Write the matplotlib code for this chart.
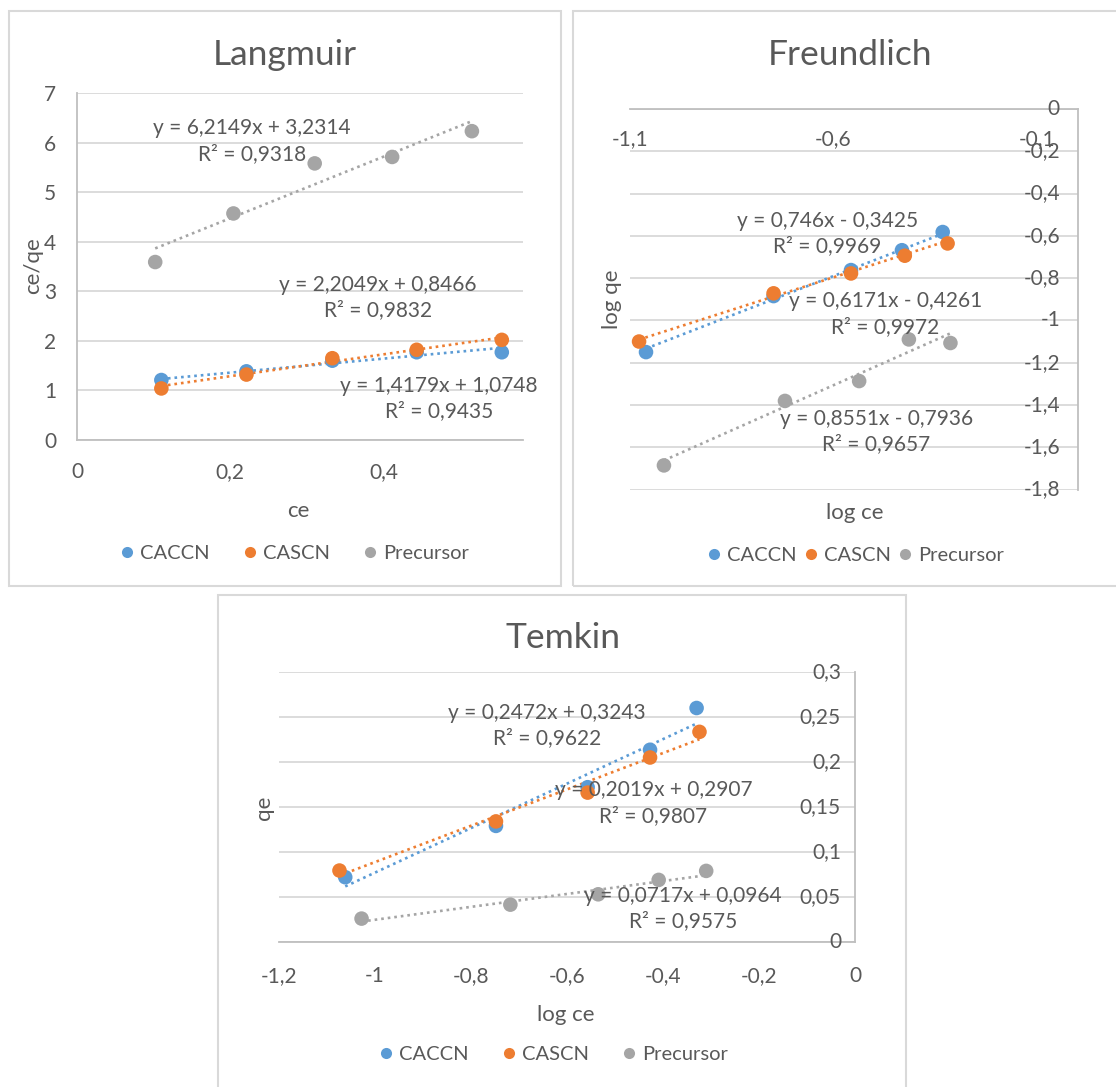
import matplotlib
matplotlib.use("Agg")
import matplotlib.pyplot as plt
import matplotlib.transforms as mtrans
from matplotlib.patches import Rectangle
from matplotlib.lines import Line2D

plt.rcParams['font.family'] = ['Lato', 'DejaVu Sans']

W, H = 1116, 1087
TXT = '#595959'
GRID = '#D9D9D9'
AXIS = '#BFBFBF'

series_names = ["CACCN", "CASCN", "Precursor"]
series_colors = ["#5B9BD5", "#ED7D31", "#A5A5A5"]

# Langmuir: ce vs ce/qe
lang_ce_caccn = [0.110, 0.221, 0.333, 0.443, 0.554]
lang_cq_caccn = [1.21, 1.385, 1.60, 1.77, 1.77]
lang_ce_cascn = [0.110, 0.221, 0.333, 0.443, 0.554]
lang_cq_cascn = [1.04, 1.32, 1.65, 1.82, 2.02]
lang_ce_prec = [0.102, 0.204, 0.310, 0.411, 0.515]
lang_cq_prec = [3.59, 4.57, 5.58, 5.71, 6.23]
lang_fits = [(1.4179, 1.0748, 0.9435), (2.2049, 0.8466, 0.9832), (6.2149, 3.2314, 0.9318)]

# Freundlich: log ce vs log qe
freu_x_caccn = [-1.060, -0.747, -0.557, -0.432, -0.332]
freu_y_caccn = [-1.150, -0.885, -0.762, -0.668, -0.582]
freu_x_cascn = [-1.077, -0.747, -0.557, -0.425, -0.320]
freu_y_cascn = [-1.100, -0.872, -0.778, -0.694, -0.636]
freu_x_prec = [-1.016, -0.719, -0.537, -0.415, -0.313]
freu_y_prec = [-1.686, -1.381, -1.287, -1.090, -1.107]
freu_fits = [(0.746, -0.3425, 0.9969), (0.6171, -0.4261, 0.9972), (0.8551, -0.7936, 0.9657)]

# Temkin: log ce vs qe
temk_x_caccn = [-1.062, -0.748, -0.557, -0.427, -0.330]
temk_y_caccn = [0.072, 0.129, 0.172, 0.2136, 0.260]
temk_x_cascn = [-1.074, -0.748, -0.557, -0.427, -0.324]
temk_y_cascn = [0.0794, 0.134, 0.166, 0.205, 0.2335]
temk_x_prec = [-1.028, -0.718, -0.535, -0.409, -0.310]
temk_y_prec = [0.026, 0.0415, 0.053, 0.069, 0.079]
temk_fits = [(0.2472, 0.3243, 0.9622), (0.2019, 0.2907, 0.9807), (0.0717, 0.0964, 0.9575)]

lang_xticks = [0, 0.2, 0.4]
lang_yticks = [0, 1, 2, 3, 4, 5, 6, 7]
freu_xticks = [-1.1, -0.6, -0.1]
freu_yticks = [0, -0.2, -0.4, -0.6, -0.8, -1.0, -1.2, -1.4, -1.6, -1.8]
temk_xticks = [-1.2, -1.0, -0.8, -0.6, -0.4, -0.2, 0]
temk_yticks = [0, 0.05, 0.1, 0.15, 0.2, 0.25, 0.3]


def num(v):
    if abs(v) < 1e-12:
        return "0"
    s = repr(round(v, 4))
    if s.endswith(".0"):
        s = s[:-2]
    return s.replace(".", ",")


def eq_label(a, b, r2):
    sign = "+" if b >= 0 else "-"
    return f"y = {num(a)}x {sign} {num(abs(b))}\nR\u00b2 = {num(r2)}"


def px_rect(x0, y0, x1, y1):
    return [x0 / W, 1 - y1 / H, (x1 - x0) / W, (y1 - y0) / H]


def ftext(px, py, s, **kw):
    kw.setdefault('ha', 'center')
    kw.setdefault('va', 'center')
    kw.setdefault('color', TXT)
    return fig.text(px / W, 1 - py / H, s, **kw)


fig = plt.figure(figsize=(W / 100, H / 100), dpi=100)
fig.patch.set_facecolor('white')

# chart frames
for (x0, y0, x1, y1) in [(8.5, 10.5, 560.5, 585.5), (572.5, 10.5, 1120, 585.5), (217.5, 594.5, 906, 1095)]:
    fig.add_artist(Rectangle((x0 / W, 1 - y1 / H), (x1 - x0) / W, (y1 - y0) / H,
                             transform=fig.transFigure, fill=False, ec=GRID, lw=1.5))

FS = 15
TITLE_FS = 25.5


def draw_series(ax, xs_all, ys_all, fits, label_pos):
    for xs, ys, (a, b, r2), c, name, (lx, ly) in zip(xs_all, ys_all, fits, series_colors, series_names, label_pos):
        ax.scatter(xs, ys, s=110, color=c, edgecolors='none', zorder=3, label=name)
        x0, x1 = min(xs), max(xs)
        ax.plot([x0, x1], [a * x0 + b, a * x1 + b], color=c, lw=1.9,
                linestyle=(0, (1, 1.5)), dash_capstyle='butt', zorder=2)
        ax.text(lx, ly, eq_label(a, b, r2), ha='center', va='center', fontsize=FS,
                color=TXT, linespacing=1.35, zorder=4, multialignment='center')


def style_axes(ax):
    ax.set_facecolor('none')
    for sp in ax.spines.values():
        sp.set_visible(False)
        sp.set_color(AXIS)
        sp.set_linewidth(1.3)
    ax.grid(axis='y', color=GRID, lw=1.3)
    ax.grid(axis='x', visible=False)
    ax.set_axisbelow(True)
    ax.tick_params(length=0, colors=TXT, labelsize=FS)


def legend_at(px, py, colsp):
    handles = [Line2D([], [], ls='none', marker='o', markersize=8, color=c, markeredgewidth=0)
               for c in series_colors]
    fig.legend(handles, series_names, loc='center', bbox_to_anchor=(px / W, 1 - py / H),
               ncol=3, frameon=False, fontsize=14.5, labelcolor=TXT, handlelength=0.8,
               handletextpad=0.25, columnspacing=colsp, borderpad=0)


# ---------------- Langmuir ----------------
ax1 = fig.add_axes(px_rect(77, 93, 522.5, 440))
style_axes(ax1)
ax1.spines['left'].set_visible(True)
ax1.spines['bottom'].set_visible(True)
ax1.set_xlim(0, 0.581)
ax1.set_ylim(0, 7)
ax1.set_xticks(lang_xticks, [num(v) for v in lang_xticks])
ax1.set_yticks(lang_yticks, [num(v) for v in lang_yticks])
ax1.tick_params(axis='x', pad=16)
ax1.tick_params(axis='y', pad=15)
draw_series(ax1, [lang_ce_caccn, lang_ce_cascn, lang_ce_prec],
            [lang_cq_caccn, lang_cq_cascn, lang_cq_prec], lang_fits,
            [(0.472, 0.84), (0.392, 2.87), (0.228, 6.03)])
ftext(285, 55, "Langmuir", fontsize=TITLE_FS)
ftext(298, 511, "ce", fontsize=FS + 1)
ftext(33, 266, "ce/qe", fontsize=FS + 1, rotation=90)
legend_at(294, 553, 1.6)

# ---------------- Freundlich ----------------
ax2 = fig.add_axes(px_rect(629.7, 109, 1078, 489.5))
style_axes(ax2)
ax2.spines['top'].set_visible(True)
ax2.spines['right'].set_visible(True)
ax2.set_xlim(-1.1, 0)
ax2.set_ylim(-1.8, 0)
ax2.set_xticks([])
ax2.set_yticks(freu_yticks, [])
xt = mtrans.offset_copy(ax2.get_xaxis_transform(), fig=fig, y=-30, units='dots')
for v in freu_xticks:
    ax2.text(v, 1.0, num(v), transform=xt, ha='center', va='center', fontsize=FS, color=TXT)
yt = mtrans.offset_copy(ax2.get_yaxis_transform(), fig=fig, x=-18, units='dots')
for v in freu_yticks:
    ax2.text(1.0, v, num(v), transform=yt, ha='right', va='center', fontsize=FS, color=TXT)
draw_series(ax2, [freu_x_caccn, freu_x_cascn, freu_x_prec],
            [freu_y_caccn, freu_y_cascn, freu_y_prec], freu_fits,
            [(-0.615, -0.589), (-0.473, -0.971), (-0.495, -1.527)])
ftext(850, 55, "Freundlich", fontsize=TITLE_FS)
ftext(855, 513, "log ce", fontsize=FS + 1)
ftext(612, 299, "log qe", fontsize=FS + 1, rotation=90)
legend_at(855, 555, 0.3)

# ---------------- Temkin ----------------
ax3 = fig.add_axes(px_rect(279, 672, 855, 942))
style_axes(ax3)
ax3.spines['bottom'].set_visible(True)
ax3.spines['right'].set_visible(True)
ax3.set_xlim(-1.2, 0)
ax3.set_ylim(0, 0.3)
ax3.set_xticks(temk_xticks, [num(v) for v in temk_xticks])
ax3.set_yticks(temk_yticks, [])
ax3.tick_params(axis='x', pad=17)
yt3 = mtrans.offset_copy(ax3.get_yaxis_transform(), fig=fig, x=-14, units='dots')
for v in temk_yticks:
    ax3.text(1.0, v, num(v), transform=yt3, ha='right', va='center', fontsize=FS, color=TXT)
draw_series(ax3, [temk_x_caccn, temk_x_cascn, temk_x_prec],
            [temk_y_caccn, temk_y_cascn, temk_y_prec], temk_fits,
            [(-0.642, 0.2406), (-0.420, 0.1546), (-0.358, 0.0372)])
ftext(563, 638, "Temkin", fontsize=TITLE_FS)
ftext(566, 1015, "log ce", fontsize=FS + 1)
ftext(264, 808, "qe", fontsize=FS + 1, rotation=90)
legend_at(553, 1054, 1.6)

fig.savefig("out.png", dpi=100, facecolor='white')
